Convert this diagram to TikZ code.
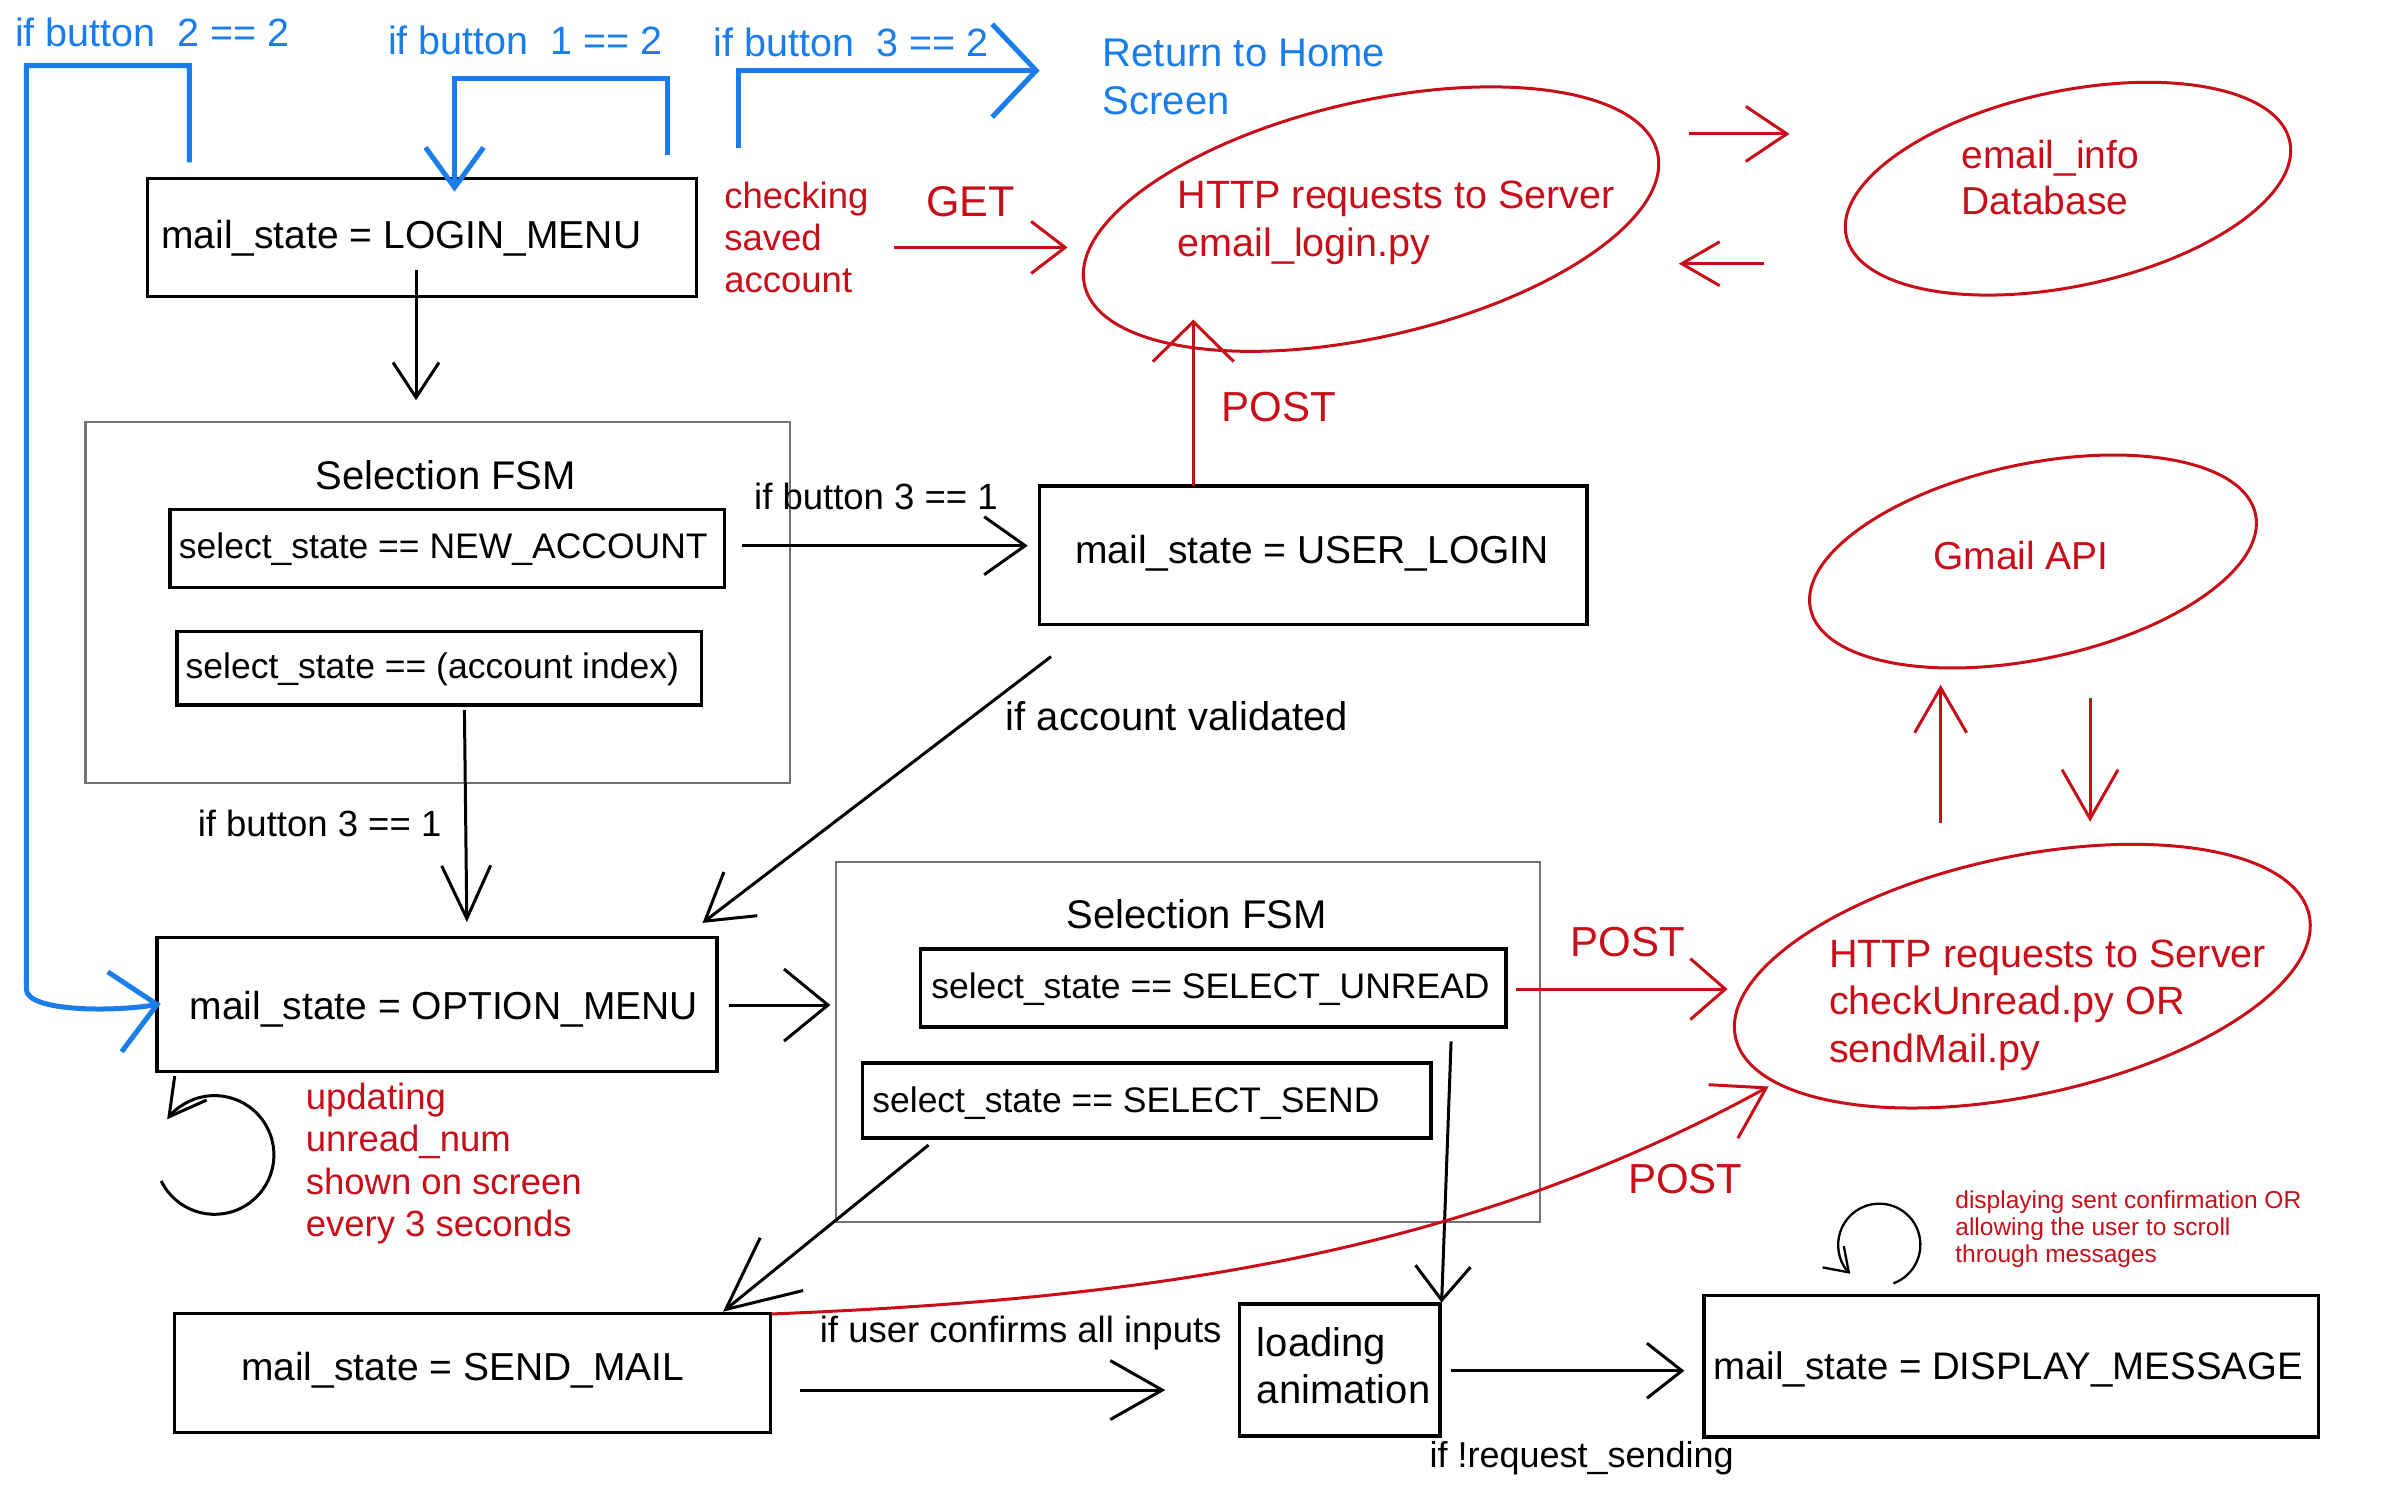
\documentclass[tikz,border=0pt]{standalone}
\usepackage{fontspec}
\setmainfont{Liberation Sans}
\usetikzlibrary{arrows.meta,shapes.geometric,fit}
\definecolor{hblue}{RGB}{25,125,235}
\definecolor{hred}{RGB}{200,15,25}
\definecolor{hgray}{RGB}{115,115,115}
\newcommand{\stk}[1]{\vtop{\halign{##\hfil\cr#1\crcr}}}
\begin{document}
\begin{tikzpicture}[x=1.5217pt,y=-1.5217pt,
  every node/.style={inner sep=0pt,outer sep=0pt},
  txt/.style 2 args={font=\fontsize{#1pt}{#2pt}\selectfont,anchor=base west,text=black},
  rtxt/.style 2 args={txt={#1}{#2},text=hred},
  btxt/.style 2 args={txt={#1}{#2},text=hblue},
  box/.style={draw=black,line width=3.5pt},
  fsm/.style={draw=hgray,line width=2.2pt},
  oval/.style={draw=hred,line width=3pt,ellipse},
  blk/.style={draw=black,line width=3pt},
  rd/.style={draw=hred,line width=3pt},
  bl/.style={draw=hblue,line width=5pt},
  arw/.style 2 args={-{Straight Barb[length=#1pt,width=#2pt]}}]
\fill[white] (0,0) rectangle (1568,980);
\useasboundingbox (0,0) rectangle (1568,980);

% ---------- boxes ----------
\node[box,fit={(96.8,117.2)(457.8,195)}] (login) {};
\node[fsm,fit={(56.2,277.5)(519,514.3)}] (fsmA) {};
\node[box,fit={(111.6,334.7)(476.2,386)}] (newacc) {};
\node[box,fit={(116.2,415.1)(461,463.3)}] (accidx) {};
\node[box,fit={(683.1,319.4)(1042.8,410.3)}] (userlogin) {};
\node[box,fit={(103.1,616.2)(471.2,704.3)}] (option) {};
\node[fsm,fit={(549.2,566.3)(1012,803)}] (fsmB) {};
\node[box,fit={(605,623.6)(989.7,675)}] (unread) {};
\node[box,fit={(566.8,698.6)(940.4,747.9)}] (sendsel) {};
\node[box,fit={(114.7,863.3)(506.3,941.5)}] (sendmail) {};
\node[box,fit={(814.4,857)(946.2,943.7)}] (loading) {};
\node[box,fit={(1119.8,851.5)(1523.7,944.2)}] (display) {};

% ---------- ellipses ----------
\node[oval,minimum width=588pt,minimum height=235pt,rotate=13] (srv1) at (901,144) {};
\node[oval,minimum width=453.5pt,minimum height=195pt,rotate=12] (db) at (1359,124) {};
\node[oval,minimum width=455pt,minimum height=195pt,rotate=12] (gmail) at (1336,369) {};
\node[oval,minimum width=586.5pt,minimum height=239pt,rotate=12] (srv3) at (1329,641.5) {};

% ---------- black texts ----------
\node[txt={39}{47}] (loginT) at (106,163) {mail\_state = LOGIN\_MENU};
\node[txt={40}{48}] (fsmAT) at (207.5,321.5) {Selection FSM};
\node[txt={35.5}{43}] (newaccT) at (117.6,367) {select\_state == NEW\_ACCOUNT};
\node[txt={35.5}{43}] (accidxT) at (122,445.8) {select\_state == (account index)};
\node[txt={36.5}{44}] (b31a) at (495.6,335) {if button 3 == 1};
\node[txt={36.5}{44}] (b31b) at (130,550) {if button 3 == 1};
\node[txt={40}{48}] (validT) at (661,480) {if account validated};
\node[txt={39}{47}] (userloginT) at (706.6,370) {mail\_state = USER\_LOGIN};
\node[txt={39}{47}] (optionT) at (124.7,670) {mail\_state = OPTION\_MENU};
\node[txt={40}{48}] (fsmBT) at (701,610) {Selection FSM};
\node[txt={35.5}{43}] (unreadT) at (612,656.5) {select\_state == SELECT\_UNREAD};
\node[txt={35.5}{43}] (sendselT) at (573.3,731) {select\_state == SELECT\_SEND};
\node[txt={39}{47}] (sendmailT) at (158.4,907.5) {mail\_state = SEND\_MAIL};
\node[txt={36.5}{44}] (confirmT) at (538.8,882.5) {if user confirms all inputs};
\node[txt={40}{46.7}] (loadingT) at (826,891.5) {\stk{loading\cr animation}};
\node[txt={36}{43}] (reqT) at (939.5,964.5) {if !request\_sending};
\node[txt={38.4}{46}] (displayT) at (1126,906.5) {mail\_state = DISPLAY\_MESSAGE};

% ---------- red texts ----------
\node[rtxt={36.5}{41.8}] (chk) at (476,137) {\stk{checking\cr saved\cr account}};
\node[rtxt={43}{50}] (get) at (608.6,142) {GET};
\node[rtxt={39.5}{48.2}] (srv1T) at (774,137) {\stk{HTTP requests to Server\cr email\_login.py}};
\node[rtxt={39}{46.7}] (dbT) at (1289,110.6) {\stk{email\_info\cr Database}};
\node[rtxt={39}{47}] (gmailT) at (1270.5,374) {Gmail API};
\node[rtxt={39.5}{47.2}] (srv3T) at (1202,636) {\stk{HTTP requests to Server\cr checkUnread.py OR\cr sendMail.py}};
\node[rtxt={42}{50}] (post1) at (1032,628.6) {POST};
\node[rtxt={42}{50}] (post2) at (1070,784) {POST};
\node[rtxt={42}{50}] (post3) at (803,277) {POST};
\node[rtxt={36.5}{42.6}] (updT) at (201,728.8) {\stk{updating\cr unread\_num\cr shown on screen\cr every 3 seconds}};
\node[rtxt={24.5}{27.1}] (dispnote) at (1285,794) {\stk{displaying sent confirmation OR\cr allowing the user to scroll\cr through messages}};

% ---------- blue texts ----------
\node[btxt={39.5}{47}] (if22) at (10,30.7) {if button\ \ 2 == 2};
\node[btxt={39.5}{47}] (if12) at (255,36) {if button\ \ 1 == 2};
\node[btxt={39.5}{47}] (if32) at (469,37) {if button\ \ 3 == 2};
\node[btxt={40}{48}] (home) at (724.7,44) {\stk{Return to Home\cr Screen}};

% ---------- coordinates for free ends ----------
\coordinate (c1a) at (273.4,177.4); \coordinate (c1b) at (273.4,263);
\coordinate (c2a) at (487.3,358.6); \coordinate (c2b) at (675.4,358.6);
\coordinate (c3a) at (305.2,466.6); \coordinate (c3b) at (306.8,606);
\coordinate (c4a) at (690.7,431.5); \coordinate (c4b) at (461.7,606.5);
\coordinate (c5a) at (479.3,660.5); \coordinate (c5b) at (545.7,660.5);
\coordinate (c7a) at (610.2,752.5); \coordinate (c7b) at (475.1,862);
\coordinate (c8a) at (953.6,684.4); \coordinate (c8b) at (947.4,856);
\coordinate (c9a) at (526,913.5);   \coordinate (c9b) at (765.8,913.5);
\coordinate (c10a) at (953.6,900.8); \coordinate (c10b) at (1106.9,900.8);
\coordinate (loopA) at (141,759);
\coordinate (loopB) at (1235,818);
\coordinate (r1a) at (587.8,162.6); \coordinate (r1b) at (701.6,162.6);
\coordinate (r2a) at (1110,88);     \coordinate (r2b) at (1176,88);
\coordinate (r3a) at (1159.3,173.3); \coordinate (r3b) at (1103.2,173.3);
\coordinate (r4a) at (784.2,319.4); \coordinate (r4b) at (784.2,210);
\coordinate (r5a) at (1275.3,541);  \coordinate (r5b) at (1275.3,450);
\coordinate (r6a) at (1373.5,459);  \coordinate (r6b) at (1373.5,540);
\coordinate (r7a) at (996.5,650);   \coordinate (r7b) at (1135.3,650);
\coordinate (r8a) at (507,863.5);   \coordinate (r8b) at (1162.3,714);
\coordinate (b1a) at (124.5,106.7); \coordinate (b1b) at (105.6,659.7);
\coordinate (b2a) at (438.9,101.9); \coordinate (b2b) at (298.7,126);
\coordinate (b3a) at (485,97.5);    \coordinate (b3b) at (683.2,46.4);

% ---------- black connectors ----------
\draw[blk,arw={35}{46}] (c1a) -- (c1b);
\draw[blk,arw={41}{58}] (c2a) -- (c2b);
\draw[blk,arw={53}{49}] (c3a) -- (c3b);
\draw[blk,arw={45}{55}] (c4a) -- (c4b);
\draw[blk,arw={44}{72}] (c5a) -- (c5b);
\draw[blk,arw={72}{68}] (c7a) -- (c7b);
\draw[blk,arw={34}{55}] (c8a) -- (c8b);
\draw[blk,arw={52}{59}] (c9a) -- (c9b);
\draw[blk,arw={35}{55}] (c10a) -- (c10b);
\draw[blk,arw={36}{40}] (loopA) ++(154:39) arc[start angle=154,end angle=-143,radius=39];
\draw[blk,line width=2.3pt,arw={22}{30}] (loopB) ++(70:27) arc[start angle=70,end angle=-225,radius=27];

% ---------- red connectors ----------
\draw[rd,arw={34}{52}] (r1a) -- (r1b);
\draw[rd,arw={41}{55}] (r2a) -- (r2b);
\draw[rd,arw={38}{44}] (r3a) -- (r3b);
\draw[rd,arw={40}{81}] (r4a) -- (r4b);
\draw[rd,arw={45}{52}] (r5a) -- (r5b);
\draw[rd,arw={49}{56}] (r6a) -- (r6b);
\draw[rd,arw={35}{61}] (r7a) -- (r7b);
\draw[rd,arw={49}{61}] (r8a) .. controls (757,853.5) and (962,824) .. (r8b);

% ---------- blue connectors ----------
\draw[bl,arw={43}{81}] (b1a) -- (124.5,43.2) -- (17.3,43.2) -- (17.3,650)
   .. controls (17.3,665) and (75,665) .. (b1b);
\draw[bl,arw={40}{58}] (b2a) -- (438.9,51.9) -- (298.7,51.9) -- (b2b);
\draw[bl,arw={44}{93}] (b3a) -- (485,46.4) -- (b3b);
\end{tikzpicture}
\end{document}
